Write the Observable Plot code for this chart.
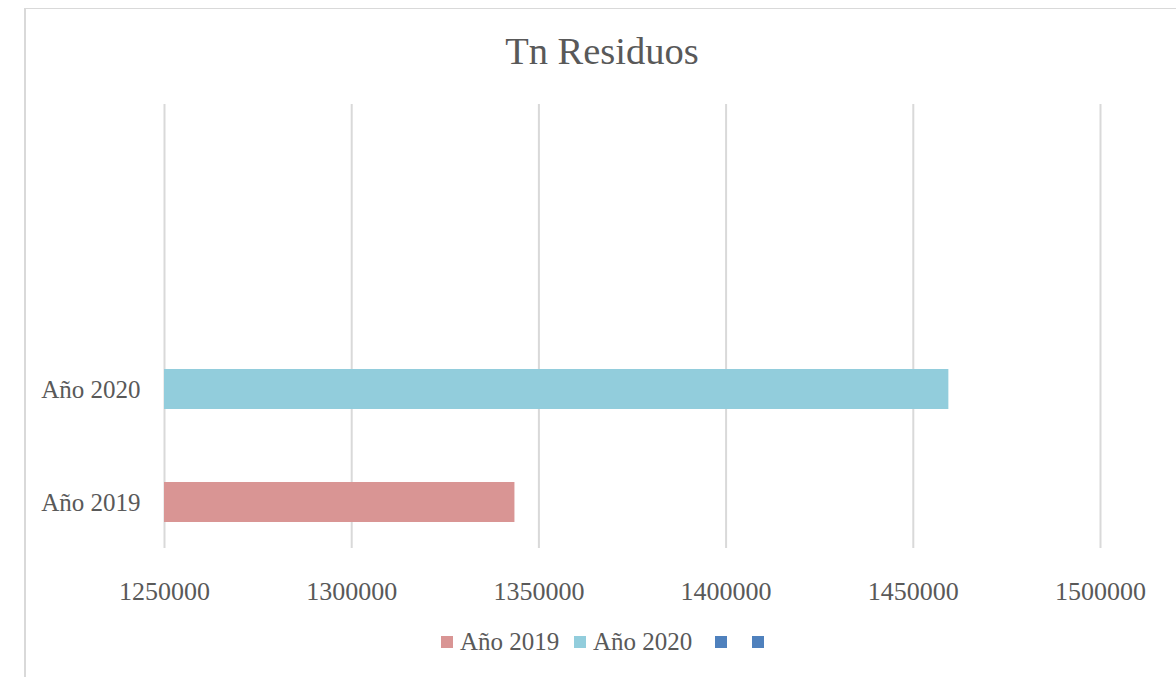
<!DOCTYPE html>
<html>
<head>
<meta charset="utf-8">
<script src="https://cdn.jsdelivr.net/npm/d3@7"></script>
<script src="https://cdn.jsdelivr.net/npm/@observablehq/plot@0.6"></script>
<style>
  html, body { margin: 0; padding: 0; background: #fff; }
  body { width: 1176px; height: 677px; overflow: hidden; position: relative; font-family: "Liberation Serif", "DejaVu Serif", serif; color: #595959; }
  #frame { position: absolute; left: 24px; top: 8px; width: 1200px; height: 700px; border-left: 2px solid #D9D9D9; border-top: 1.5px solid #D9D9D9; box-sizing: border-box; }
  #title { position: absolute; left: 24px; width: 1156px; top: 26px; text-align: center; font-size: 38.5px; line-height: 50px; color: #595959; }
  #chart { position: absolute; left: 0; top: 0; }
  #legend { position: absolute; left: 0; top: 0; width: 1176px; height: 677px; pointer-events: none; }
  .sw { position: absolute; width: 12px; height: 12px; top: 636px; }
  .lt { position: absolute; top: 627px; font-size: 25px; line-height: 30px; color: #595959; white-space: nowrap; }
</style>
</head>
<body>
<div id="frame"></div>
<div id="title">Tn Residuos</div>
<div id="chart"></div>
<div id="legend"></div>
<script>
// Data
const categories = ["Año 2020", "Año 2019"];
const values = [1459500, 1343600];
const colors = ["#92CDDC", "#D99594"];
const xTicks = [1250000, 1300000, 1350000, 1400000, 1450000, 1500000];
const legendLabels = ["Año 2019", "Año 2020", "", ""];
const legendColors = ["#D99594", "#92CDDC", "#4F81BD", "#4F81BD"];
const baseline = 1250000;

const data = categories.map((c, i) => ({cat: c, value: values[i], color: colors[i]}));

const chart = Plot.plot({
  width: 1176,
  height: 620,
  marginTop: 104,
  marginBottom: 72,
  marginLeft: 164,
  marginRight: 76,
  style: {fontFamily: "Liberation Serif, DejaVu Serif, serif", fontSize: "25px", color: "#595959", background: "transparent"},
  x: {domain: [1250000, 1500000], ticks: xTicks, tickFormat: d => String(d)},
  y: {domain: categories, paddingInner: 0.646, paddingOuter: 1.2875, align: 0.91},
  marks: [
    Plot.ruleX(xTicks, {stroke: "#D9D9D9", strokeWidth: 2}),
    Plot.barX(data, {y: "cat", x1: () => baseline, x2: "value", fill: "color"}),
    Plot.axisX({ticks: xTicks, tickSize: 0, tickPadding: 33, fontSize: 26, tickFormat: d => String(d), fill: "#595959", label: null}),
    Plot.axisY({tickSize: 0, tickPadding: 24, fontSize: 25, fill: "#595959", label: null})
  ]
});
document.getElementById("chart").appendChild(chart);

// Legend: swatch x-positions (layout) for each legend entry
const legendX = [441, 574, 715, 752];
const legend = document.getElementById("legend");
legendLabels.forEach((l, i) => {
  const sw = document.createElement("div");
  sw.className = "sw";
  sw.style.left = legendX[i] + "px";
  sw.style.background = legendColors[i];
  legend.appendChild(sw);
  if (l) {
    const t = document.createElement("span");
    t.className = "lt";
    t.style.left = (legendX[i] + 19) + "px";
    t.textContent = l;
    legend.appendChild(t);
  }
});
</script>
</body>
</html>
